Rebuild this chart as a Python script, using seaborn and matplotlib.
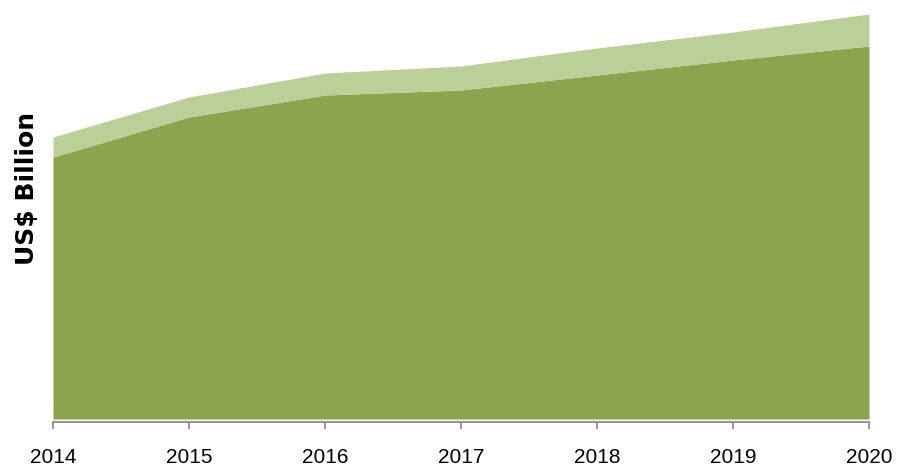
import matplotlib
matplotlib.use("Agg")
import matplotlib.pyplot as plt
import seaborn as sns

# values (arbitrary units, no y scale shown)
years = [2014, 2015, 2016, 2017, 2018, 2019, 2020]
base_values = [26.2, 30.2, 32.4, 32.9, 34.4, 35.9, 37.3]
top_values = [2.0, 2.0, 2.2, 2.4, 2.7, 2.8, 3.2]

dark_green = '#8AA54E'
light_green = '#BBCF99'

sns.set_style('white')
plt.rcParams['font.family'] = ['Liberation Sans', 'DejaVu Sans']

fig = plt.figure(figsize=(9, 4.68), dpi=100)
ax = fig.add_axes([53 / 900, 49 / 468, 816 / 900, 414 / 468])

ax.stackplot(years, base_values, top_values, colors=[dark_green, light_green], linewidth=0)

ax.set_xlim(years[0], years[-1])
ax.set_ylim(0, 41.4)
ax.set_xticks(years)
ax.set_xticklabels([str(y) for y in years])
ax.set_yticks([])

sns.despine(ax=ax, left=True, top=True, right=True)
ax.spines['bottom'].set_color('#8C8C8C')
ax.spines['bottom'].set_linewidth(1.3)
ax.spines['bottom'].set_position(('outward', 2))
ax.tick_params(axis='x', bottom=True, direction='out', length=5, width=1.3,
               color='#8C8C8C', pad=14, labelcolor='black', labelsize=15)

fig.text(27 / 900, 1 - 188 / 468, 'US$ Billion', rotation=90, ha='center', va='center',
         fontsize=18, fontweight='bold', family='DejaVu Sans', color='black')

fig.savefig('out.png', dpi=100)
